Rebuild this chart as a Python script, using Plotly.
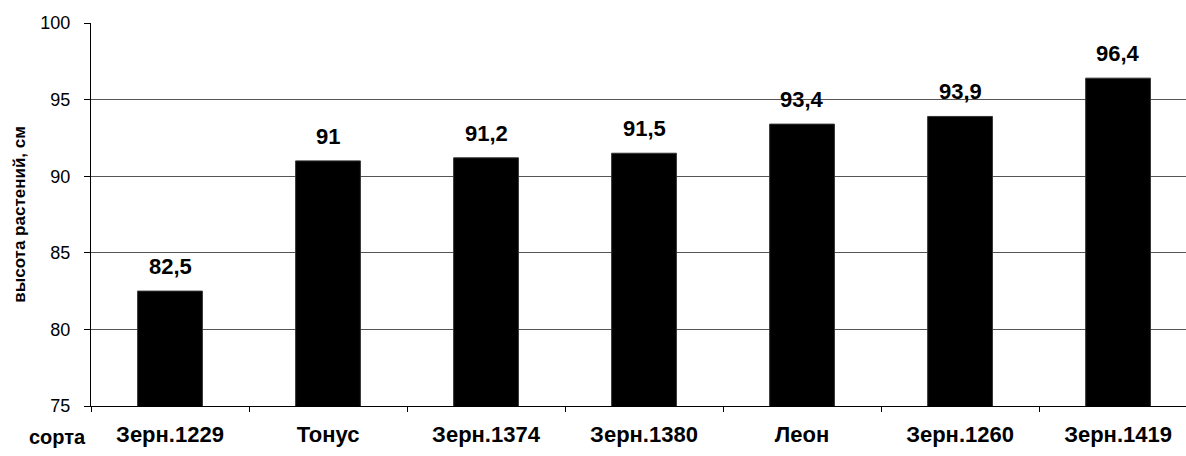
import plotly.graph_objects as go

# Plant height by variety
varieties = ["Зерн.1229", "Тонус", "Зерн.1374", "Зерн.1380", "Леон", "Зерн.1260", "Зерн.1419"]
heights = [82.5, 91.0, 91.2, 91.5, 93.4, 93.9, 96.4]
y_ticks = [75, 80, 85, 90, 95, 100]

FONT = "Liberation Sans, Arial, sans-serif"


def fmt(v):
    s = ("%.1f" % v).rstrip("0").rstrip(".")
    return s.replace(".", ",")


fig = go.Figure()
fig.add_trace(go.Bar(
    x=varieties,
    y=heights,
    width=0.41,
    marker=dict(color="black", line=dict(color="#333333", width=1)),
    hoverinfo="skip",
))

for name, h in zip(varieties, heights):
    fig.add_annotation(
        x=name, y=h, text="<b>%s</b>" % fmt(h),
        showarrow=False, yanchor="bottom", yshift=10,
        font=dict(family=FONT, size=22, color="black"),
    )

fig.add_annotation(
    xref="paper", yref="paper", x=-0.031, y=-0.08,
    xanchor="center", yanchor="middle",
    text="<b>сорта</b>", showarrow=False,
    font=dict(family=FONT, size=20, color="black"),
)

fig.update_layout(
    width=1186, height=456,
    margin=dict(l=91, r=0, t=23, b=50),
    paper_bgcolor="white", plot_bgcolor="white",
    showlegend=False,
)
fig.update_xaxes(
    type="category",
    range=[-0.5, 6.43],
    tickson="boundaries",
    ticks="outside", ticklen=5, tickcolor="black",
    showline=True, linecolor="black", linewidth=1,
    showgrid=False,
    tickfont=dict(family=FONT, size=22, color="black"),
    ticklabelstandoff=9,
    tickprefix="<b>", ticksuffix="</b>",
)
fig.update_yaxes(
    range=[75, 100],
    tickvals=y_ticks,
    ticks="outside", ticklen=6, tickcolor="black",
    showline=True, linecolor="black", linewidth=1,
    showgrid=True, gridcolor="#555555", gridwidth=1,
    zeroline=False,
    tickfont=dict(family=FONT, size=18, color="black"),
    ticklabelstandoff=10,
    title=dict(text="<b>высота растений, см</b>", standoff=10,
               font=dict(family=FONT, size=17, color="black")),
)

fig.write_html("out.html")
